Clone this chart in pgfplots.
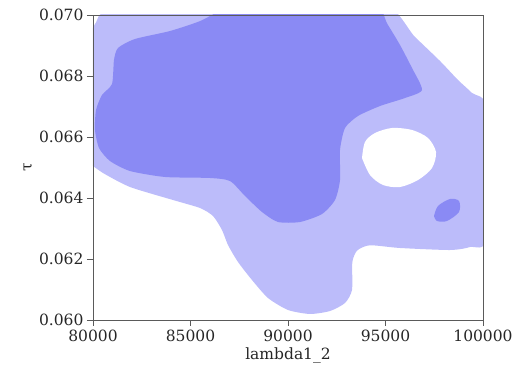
\documentclass[border=0pt]{standalone}
\usepackage{fontspec}
\setmainfont{DejaVu Serif}
\usepackage{pgfplots}
\pgfplotsset{compat=1.18}
\definecolor{lightc}{RGB}{188,188,250}
\definecolor{darkc}{RGB}{138,138,244}
\definecolor{axc}{RGB}{90,90,90}
\begin{document}
\begin{tikzpicture}
\begin{axis}[
  width=390pt, height=305pt, scale only axis,
  xmin=80000, xmax=100000, ymin=0.060, ymax=0.070,
  xtick={80000,85000,90000,95000,100000},
  ytick={0.060,0.062,0.064,0.066,0.068,0.070},
  scaled x ticks=false, scaled y ticks=false,
  xticklabel style={/pgf/number format/.cd, fixed, 1000 sep={}},
  yticklabel style={/pgf/number format/.cd, fixed, fixed zerofill, precision=3},
  /pgf/number format/assume math mode=true,
  tick align=outside, major tick length=6pt, tick pos=left,
  axis line style={axc, line width=0.8pt},
  tick style={axc, line width=0.8pt},
  font=\fontsize{15.5}{18}\selectfont,
  ticklabel style={black!85},
  xlabel={lambda1\_2}, ylabel={τ},
  label style={black!85},
  axis on top,
]
% outer (light) level
\addplot[fill=lightc, draw=none, smooth, tension=0.4] coordinates {
 (79800,0.0693) (80150,0.06975) (80900,0.07015) (87000,0.07050) (94462,0.07055)
 (96513,0.069279) (97795,0.068492) (98718,0.067869) (99436,0.067443)
 (100200,0.06690) (100200,0.06270) (99333,0.062393) (98308,0.062295)
 (95744,0.062361) (94200,0.06245) (93550,0.06228) (93300,0.06190)
 (93282,0.060984)
 (92923,0.060557) (92154,0.060295) (91128,0.060197) (90000,0.060328)
 (88974,0.060721) (88154,0.061311) (87436,0.061902) (86923,0.062459)
 (86615,0.062951) (86154,0.06341) (85487,0.063672) (84103,0.063934)
 (81897,0.064361) (80513,0.06482) (79800,0.06515)
} -- cycle;
% hole
\addplot[fill=white, draw=none, smooth, tension=0.5] coordinates {
 (93795,0.065311) (93949,0.065836) (94462,0.066131) (95333,0.066295)
 (96359,0.06623) (97179,0.065967) (97590,0.065508) (97385,0.064984)
 (96667,0.06459) (95744,0.064361) (94872,0.064426) (94205,0.064754)
 (93795,0.065311)
} -- cycle;
% inner (dark) level
\addplot[fill=darkc, draw=none, smooth, tension=0.4] coordinates {
 (86513,0.07015) (90500,0.07040) (94300,0.07050) (95100,0.06970) (95744,0.069016) (96359,0.068262)
 (96872,0.067541) (96000,0.067279) (94718,0.067016) (93590,0.066689)
 (92923,0.066295) (92667,0.065574) (92667,0.06459) (92410,0.063934)
 (91744,0.063475) (90615,0.063213) (89487,0.063213) (88667,0.063541)
 (87795,0.064066) (87026,0.064557) (86000,0.064656) (83692,0.064689)
 (81897,0.064885) (80872,0.065213) (80308,0.065639) (80103,0.06623)
 (80154,0.066885) (80462,0.067377) (80974,0.067738) (81077,0.068525)
 (81282,0.068918) (82154,0.069213) (83949,0.069475) (85487,0.06980)
 (86513,0.07015)
} -- cycle;
% small dark blob
\addplot[fill=darkc, draw=none, smooth, tension=0.5] coordinates {
 (97487,0.06341) (97692,0.063738) (98308,0.063967) (98769,0.063902)
 (98769,0.063541) (98154,0.063246) (97641,0.063246) (97487,0.06341)
} -- cycle;
\end{axis}
\path (-93pt,-54pt) rectangle (426pt,320pt);
\end{tikzpicture}
\end{document}
